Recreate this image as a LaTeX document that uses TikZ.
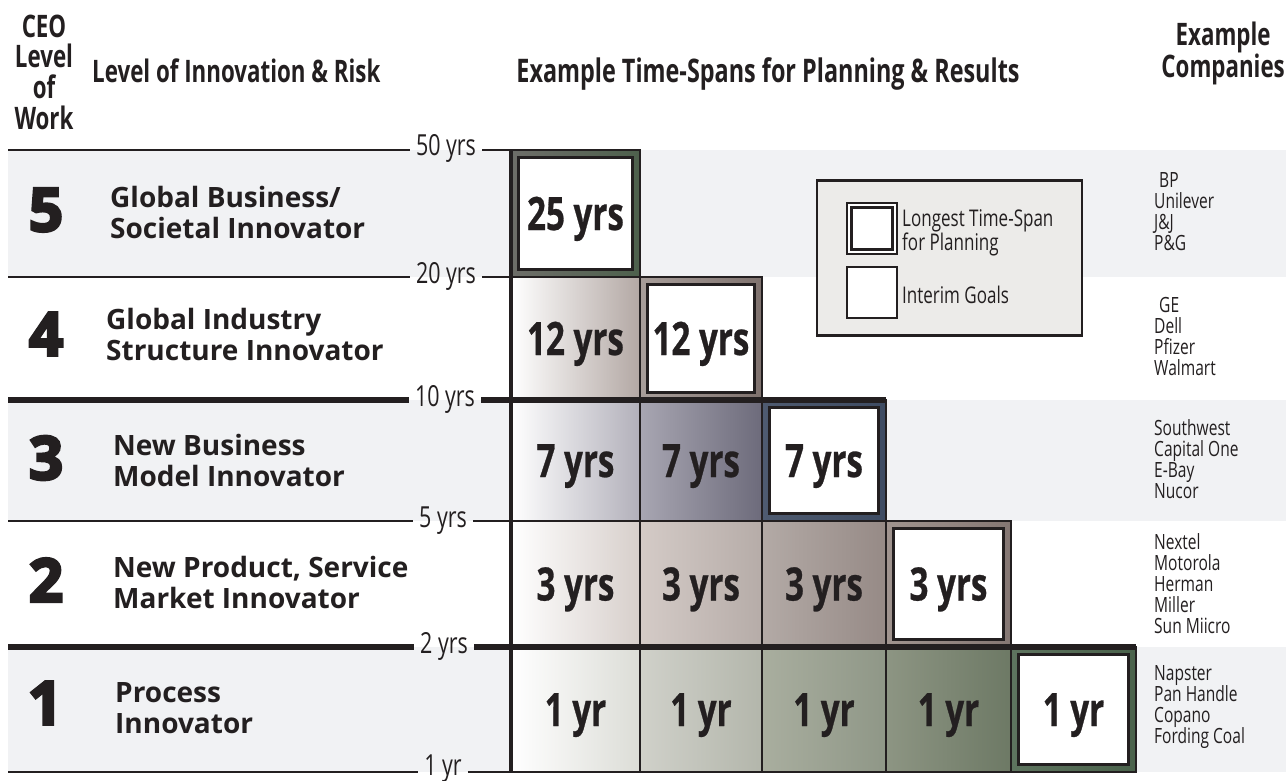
\documentclass[tikz,border=0pt]{standalone}
\usepackage{fontspec}
\setmainfont{Open Sans}
\newfontfamily\condr[FakeStretch=0.74]{Open Sans}
\newfontfamily\condsb[FakeStretch=0.72]{Open Sans}
\newfontfamily\condbd[FakeStretch=0.72,FakeBold=0.6]{Open Sans}
\newfontfamily\heavyf[FakeBold=4.5]{Open Sans}
\newcommand\setfs[2]{\fontsize{#1}{#2}\selectfont}
\definecolor{bandgray}{HTML}{F1F2F4}
\definecolor{ink}{HTML}{231F20}
\definecolor{legfill}{HTML}{ECEBE9}
\definecolor{bfiveL}{HTML}{6E6E69}\definecolor{bfiveR}{HTML}{4D604C}
\definecolor{gfourR}{HTML}{B3A8A4}
\definecolor{bfourL}{HTML}{A89E9A}\definecolor{bfourR}{HTML}{7F726E}
\definecolor{gthreeaR}{HTML}{B2B0BA}
\definecolor{gthreebL}{HTML}{A8A6B2}\definecolor{gthreebR}{HTML}{6D6B7B}
\definecolor{bthreeL}{HTML}{4F5B70}\definecolor{bthreeR}{HTML}{3E4B62}
\definecolor{gtwoaR}{HTML}{D7CFCB}
\definecolor{gtwobL}{HTML}{D4CBC7}\definecolor{gtwobR}{HTML}{B6ACA8}
\definecolor{gtwocL}{HTML}{B3AAA6}\definecolor{gtwocR}{HTML}{968A86}
\definecolor{btwoL}{HTML}{A0948F}\definecolor{btwoR}{HTML}{857773}
\definecolor{goneaR}{HTML}{DCDDD7}
\definecolor{gonebL}{HTML}{D0D1CA}\definecolor{gonebR}{HTML}{B3B6AB}
\definecolor{gonecL}{HTML}{A9AE9F}\definecolor{gonecR}{HTML}{8F9787}
\definecolor{gonedL}{HTML}{8D9583}\definecolor{gonedR}{HTML}{6D7965}
\definecolor{boneL}{HTML}{5E745F}\definecolor{boneR}{HTML}{4A624B}
\tikzset{
  thinrule/.style={draw=ink,line width=2.2pt},
  thickrule/.style={draw=ink,line width=6pt},
  axlabel/.style={font=\condr\setfs{29}{29},text=ink,inner xsep=6pt,inner ysep=0pt,anchor=base},
  cell/.style={draw=ink,line width=1.8pt,inner sep=0pt,font=\condbd\bfseries\setfs{46}{46},text=ink,text height=33pt,text depth=0pt},
  innerbox/.style={cell,fill=white,line width=3pt},
  numlabel/.style={font=\heavyf\bfseries\setfs{60}{60},text=ink,inner sep=0pt},
  rowtitle/.style={font=\bfseries\setfs{28}{31},text=ink,align=left,anchor=west,inner sep=0pt},
  header/.style={font=\condsb\bfseries\setfs{31}{30.7},text=ink,inner sep=0pt},
  company/.style={font=\condr\setfs{21}{21},text=ink,align=left,anchor=west,inner sep=0pt},
  legtext/.style={font=\condr\setfs{23}{23},text=ink,align=left,anchor=west,inner sep=0pt},
}
\newcommand\gradcell[8]{%
  \node[cell,minimum width=#4,minimum height=#5,left color=#6,right color=#7] (#1) at (#2,#3) {#8};}
\newcommand\longcell[8]{%
  \node[cell,minimum width=#4,minimum height=#5,left color=#6,right color=#7] (#1) at (#2,#3) {};
  \node[innerbox,minimum width=#4-15,minimum height=#5-15] (#1i) at (#1.center) {#8};}
\begin{document}
\begin{tikzpicture}[x=1pt,y=-1pt]
\useasboundingbox (0,0) rectangle (1286,781);
\fill[white] (0,0) rectangle (1286,781);
% background bands
\fill[bandgray] (8,150) rectangle (1286,277);
\fill[bandgray] (8,400) rectangle (1286,521);
\fill[bandgray] (8,647) rectangle (1286,772);

% axis labels
\node[axlabel] (a50) at (446,156) {50 yrs};
\node[axlabel] (a20) at (446,283) {20 yrs};
\node[axlabel] (a10) at (445,406) {10 yrs};
\node[axlabel] (a5)  at (443,527) {5 yrs};
\node[axlabel] (a2)  at (444,653) {2 yrs};
\node[axlabel] (a1)  at (443,775.5) {1 yr};
\foreach \k/\yy in {50/150,20/277,10/400,5/521,2/647,1/772}{
  \coordinate (L\k) at (8,\yy);
  \coordinate (G\k) at (511,\yy);
}
\coordinate (E10) at (886,400);
\coordinate (E2) at (1136,647);

% row 5
\longcell{r5c1}{575.5}{213.5}{129}{127}{bfiveL}{bfiveR}{25 yrs}
% row 4
\gradcell{r4c1}{575.5}{338.5}{129}{123}{white}{gfourR}{12 yrs}
\longcell{r4c2}{701}{338.5}{122}{123}{bfourL}{bfourR}{12 yrs}
% row 3
\gradcell{r3c1}{575.5}{460.5}{129}{121}{white}{gthreeaR}{7 yrs}
\gradcell{r3c2}{701}{460.5}{122}{121}{gthreebL}{gthreebR}{7 yrs}
\longcell{r3c3}{824}{460.5}{124}{121}{bthreeL}{bthreeR}{7 yrs}
% row 2
\gradcell{r2c1}{575.5}{584}{129}{126}{white}{gtwoaR}{3 yrs}
\gradcell{r2c2}{701}{584}{122}{126}{gtwobL}{gtwobR}{3 yrs}
\gradcell{r2c3}{824}{584}{124}{126}{gtwocL}{gtwocR}{3 yrs}
\longcell{r2c4}{948.5}{584}{125}{126}{btwoL}{btwoR}{3 yrs}
% row 1
\gradcell{r1c1}{575.5}{709.5}{129}{125}{white}{goneaR}{1 yr}
\gradcell{r1c2}{701}{709.5}{122}{125}{gonebL}{gonebR}{1 yr}
\gradcell{r1c3}{824}{709.5}{124}{125}{gonecL}{gonecR}{1 yr}
\gradcell{r1c4}{948.5}{709.5}{125}{125}{gonedL}{gonedR}{1 yr}
\longcell{r1c5}{1073.5}{709.5}{125}{125}{boneL}{boneR}{1 yr}

% rules
\draw[thinrule] (L50) -- (a50.west |- L50);
\draw[thinrule] (a50.east |- L50) -- (G50);
\draw[thinrule] (L20) -- (a20.west |- L20);
\draw[thinrule] (a20.east |- L20) -- (G20);
\draw[thickrule] (L10) -- (a10.west |- L10);
\draw[thickrule] (a10.east |- L10) -- (E10);
\draw[thinrule] (L5) -- (a5.west |- L5);
\draw[thinrule] (a5.east |- L5) -- (G5);
\draw[thickrule] (L2) -- (a2.west |- L2);
\draw[thickrule] (a2.east |- L2) -- (E2);
\draw[thinrule] (L1) -- (a1.west |- L1);
\draw[thinrule] (a1.east |- L1) -- (G1);
\draw[draw=ink,line width=4.5pt] (G50) -- (G1);

% legend
\node[draw=ink,line width=2.2pt,fill=legfill,minimum width=265,minimum height=155,inner sep=0pt] (legend) at (949.5,258) {};
\node[draw=ink,line width=1.2pt,fill=white,minimum width=50,minimum height=51,inner sep=0pt] (lsq1) at (872,228.5) {};
\node[draw=ink,line width=3pt,fill=white,minimum width=41,minimum height=42,inner sep=0pt] (lsq1i) at (lsq1.center) {};
\node[draw=ink,line width=2.4pt,fill=white,minimum width=50,minimum height=51,inner sep=0pt] (lsq2) at (872,292.5) {};
\node[legtext] (lt1) at (902,233) {Longest Time-Span\\for Planning};
\node[legtext] (lt2) at (902,294.5) {Interim Goals};

% headers
\node[header,align=center] (hceo) at (44,72) {CEO\\Level\\of\\Work};
\node[header,anchor=base west] (hlevel) at (92,83) {Level of Innovation \& Risk};
\node[header,anchor=base,font=\condsb\bfseries\setfs{32.5}{32}] (hspan) at (768,83) {Example Time-Spans for Planning \& Results};
\node[header,align=center,anchor=east] (hcomp) at (1285,53) {Example\\Companies};

% level numbers
\node[numlabel] (n5) at (46,210) {5};
\node[numlabel] (n4) at (46,334) {4};
\node[numlabel] (n3) at (46,458) {3};
\node[numlabel] (n2) at (46,580) {2};
\node[numlabel] (n1) at (45,703) {1};

% row titles
\node[rowtitle] (t5) at (110,212) {Global Business/\\Societal Innovator};
\node[rowtitle] (t4) at (106,334) {Global Industry\\Structure Innovator};
\node[rowtitle] (t3) at (113,460) {New Business\\Model Innovator};
\node[rowtitle] (t2) at (113,582.5) {New Product, Service\\Market Innovator};
\node[rowtitle] (t1) at (115,708) {Process\\Innovator};

% companies
\node[company] (co5) at (1154,212) {\hspace*{5pt}BP\\Unilever\\J\&J\\P\&G};
\node[company] (co4) at (1154,336) {\hspace*{5pt}GE\\Dell\\Pfizer\\Walmart};
\node[company] (co3) at (1154,459) {Southwest\\Capital One\\E-Bay\\Nucor};
\node[company] (co2) at (1154,584) {Nextel\\Motorola\\Herman\\Miller\\Sun Miicro};
\node[company] (co1) at (1154,707) {Napster\\Pan Handle\\Copano\\Fording Coal};
\end{tikzpicture}
\end{document}
